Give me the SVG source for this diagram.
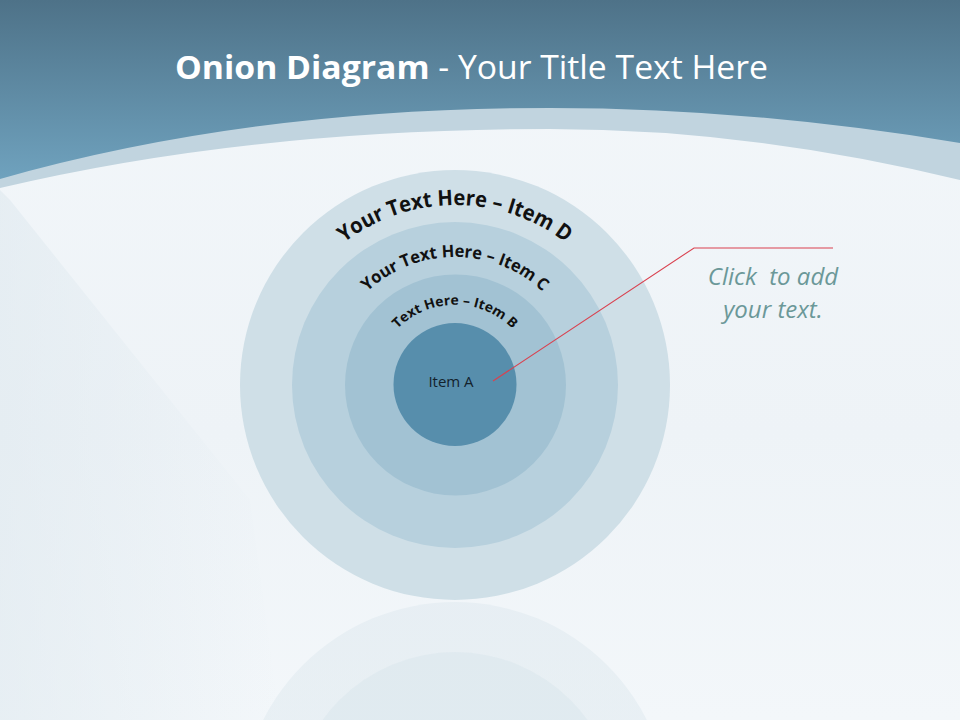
<svg xmlns="http://www.w3.org/2000/svg" width="960" height="720" viewBox="0 0 960 720">
  <defs>
    <linearGradient id="hdr" x1="0" y1="0" x2="0" y2="1">
      <stop offset="0" stop-color="#4e7288"/>
      <stop offset="1" stop-color="#6fa2be"/>
    </linearGradient>
    <linearGradient id="bg" x1="0" y1="0" x2="0" y2="1">
      <stop offset="0" stop-color="#f3f7fa"/>
      <stop offset="0.6" stop-color="#eef3f7"/>
      <stop offset="1" stop-color="#f3f7fa"/>
    </linearGradient>
    <linearGradient id="refl" x1="0" y1="0" x2="0" y2="1">
      <stop offset="0" stop-color="#dfe9ef" stop-opacity="0.9"/>
      <stop offset="1" stop-color="#d6e3ea" stop-opacity="0.5"/>
    </linearGradient>
    <linearGradient id="fold" x1="0" y1="0" x2="1" y2="0">
      <stop offset="0" stop-color="#dfe9ef" stop-opacity="0.6"/>
      <stop offset="1" stop-color="#dfe9ef" stop-opacity="0"/>
    </linearGradient>
    <path id="arcD" d="M297.4,296 A182,182 0 0 1 612.6,296"/>
    <path id="arcC" d="M344.1,321 A128,128 0 0 1 565.9,321"/>
    <path id="arcB" d="M385,345 A81,81 0 0 1 525,345"/>
    <style>
      .ring-label { font-family: "Open Sans", "Liberation Sans", sans-serif; font-weight: bold; fill: #111; }
      .callout { font-family: "Open Sans", "Liberation Sans", sans-serif; font-style: italic; fill: #6b9898; font-size: 24px; text-anchor: middle; }
      .title { font-family: "Open Sans", "Liberation Sans", sans-serif; fill: #ffffff; font-size: 32px; }
    </style>
  </defs>

  <!-- background -->
  <rect x="0" y="0" width="960" height="720" fill="url(#bg)"/>
  <polygon points="0,190 0,720 280,720 250,500 10,200" fill="url(#fold)"/>

  <!-- header band -->
  <path d="M0,0 H960 V180 Q750,129 550,129 Q250,129 0,188 Z" fill="#c1d4df"/>
  <path d="M0,0 H960 V143 Q750,108 550,108 Q250,108 0,179 Z" fill="url(#hdr)"/>

  <!-- title -->
  <text class="title" x="175" y="79" textLength="593" lengthAdjust="spacingAndGlyphs"><tspan font-weight="bold">Onion Diagram</tspan> - Your Title Text Here</text>

  <!-- reflection -->
  <g id="reflection">
    <circle cx="455" cy="817" r="215" fill="url(#refl)" opacity="0.6"/>
    <circle cx="455" cy="815" r="163" fill="#d8e5ec" opacity="0.45"/>
  </g>

  <g id="item-d">
    <circle cx="455" cy="385" r="215" fill="#cfdfe7"/>
    <text class="ring-label" font-size="21.5"><textPath href="#arcD" startOffset="50%" text-anchor="middle" textLength="238" lengthAdjust="spacingAndGlyphs">Your Text Here – Item D</textPath></text>
  </g>
  <g id="item-c">
    <circle cx="455" cy="385" r="163" fill="#b7d0dd"/>
    <text class="ring-label" font-size="17"><textPath href="#arcC" startOffset="50%" text-anchor="middle" textLength="193" lengthAdjust="spacingAndGlyphs">Your Text Here – Item C</textPath></text>
  </g>
  <g id="item-b">
    <circle cx="455.5" cy="385" r="110.5" fill="#a2c2d3"/>
    <text class="ring-label" font-size="13.5"><textPath href="#arcB" startOffset="50%" text-anchor="middle" textLength="128" lengthAdjust="spacingAndGlyphs">Text Here – Item B</textPath></text>
  </g>
  <g id="item-a">
    <circle cx="455" cy="384.5" r="61.5" fill="#578eac"/>
    <text x="451" y="387" font-family="Open Sans, Liberation Sans, sans-serif" font-size="15" fill="#13222c" text-anchor="middle">Item A</text>
  </g>

  <g id="connectors">
    <polyline points="493,381 694,248 833,248" fill="none" stroke="#d9414f" stroke-width="1.1"/>
  </g>

  <g id="callout">
    <text class="callout" x="773" y="285" xml:space="preserve">Click  to add</text>
    <text class="callout" x="773" y="318">your text.</text>
  </g>
</svg>
